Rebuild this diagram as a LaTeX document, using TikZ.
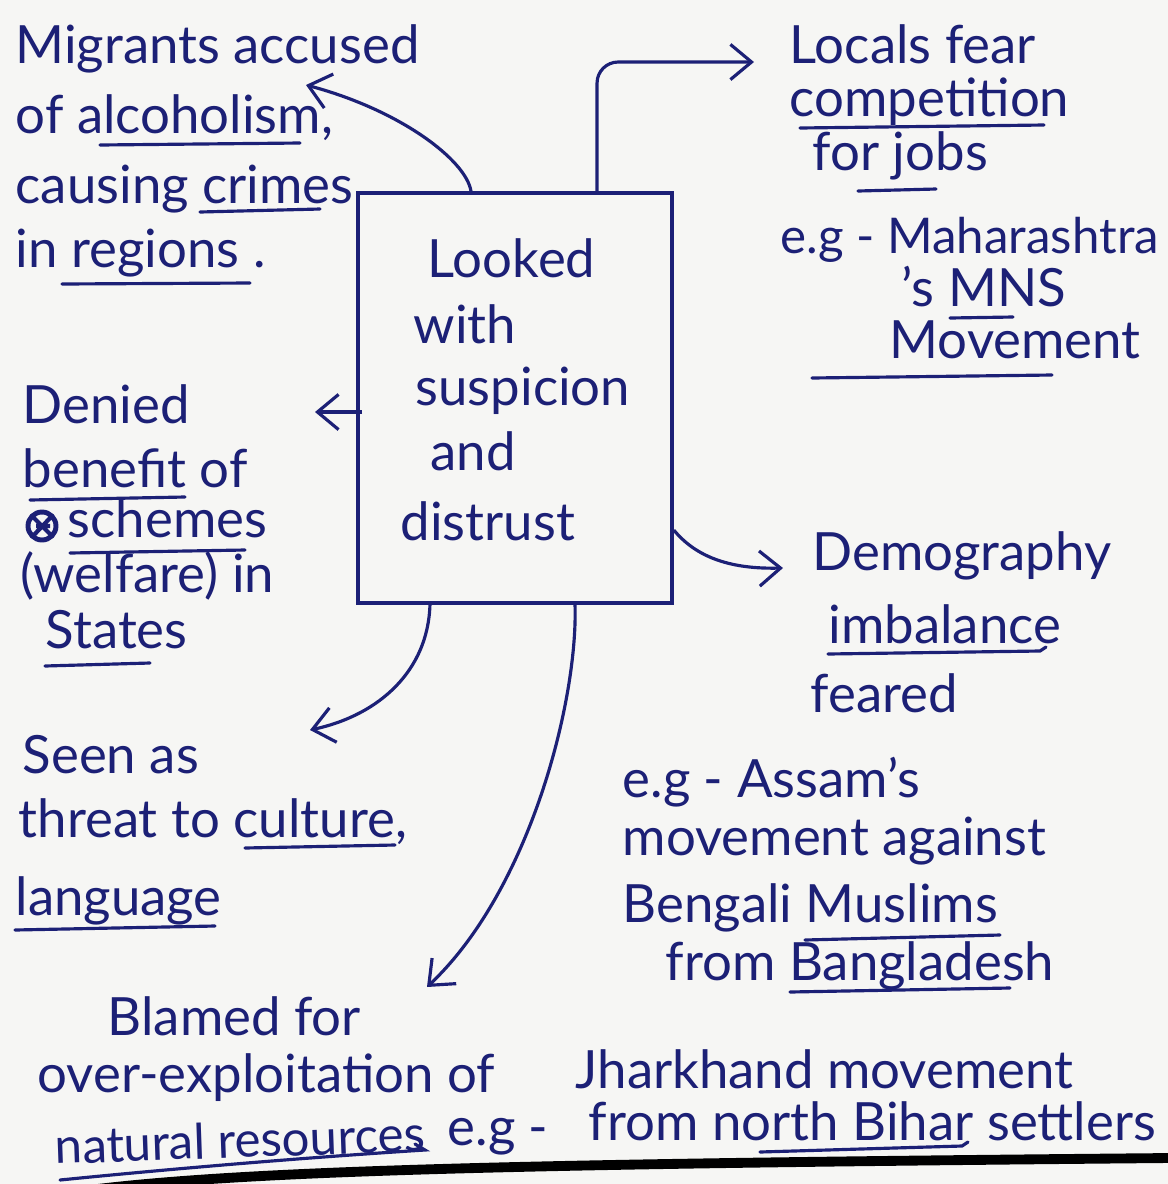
\documentclass[tikz,border=0pt]{standalone}
\usepackage{fontspec}
\setmainfont{Lato}
\usetikzlibrary{arrows.meta}
\definecolor{ink}{RGB}{28,32,118}
\definecolor{paper}{RGB}{246,246,244}
\begin{document}
\begin{tikzpicture}[x=0.01cm,y=-0.01cm,
  hand/.style={text=ink, font=\fontsize{15}{18}\selectfont, anchor=base west, inner sep=0pt},
  small/.style={font=\fontsize{14}{17}\selectfont},
  link/.style={draw=ink, line width=0.9pt, -{Straight Barb[length=6pt,width=10pt]}},
  uline/.style={draw=ink, line width=0.9pt, line cap=round},
  frame/.style={draw=ink, line width=1pt, minimum width=3.14cm, minimum height=4.10cm, inner sep=0pt}
]
% sheet
\fill[paper] (0,0) rectangle (1168,1184);
\useasboundingbox (0,0) rectangle (1168,1184);

% central box
\node[frame] (box) at (515,398) {};
\node[hand] (c1) at (427,277) {Looked};
\node[hand] (c2) at (413,343) {with};
\node[hand] (c3) at (415,405) {suspicion};
\node[hand] (c4) at (430,470) {and};
\node[hand] (c5) at (400,540) {distrust};

% top left
\node[hand] (a1) at (15,63)  {Migrants accused};
\node[hand] (a2) at (15,133) {of alcoholism,};
\node[hand] (a3) at (15,203) {causing crimes};
\node[hand] (a4) at (15,267) {in regions .};
\draw[uline] (100,145) -- (300,143);
\draw[uline] (200,212) -- (320,209);
\draw[uline] (62,284) -- (250,283);

% top right
\node[hand] (b1) at (789,63)  {Locals fear};
\node[hand] (b2) at (789,116) {competition};
\node[hand] (b3) at (812,170) {for jobs};
\node[hand, small] (b4) at (780,253) {e.g - Maharashtra};
\node[hand] (b5) at (901,306) {'s MNS};
\node[hand] (b6) at (889,358) {Movement};
\draw[uline] (800,128) -- (1044,125);
\draw[uline] (858,191) -- (936,189);
\draw[uline] (950,318) -- (1013,317);
\draw[uline] (812,378) -- (1052,375);

% left middle
\node[hand] (d1) at (22,423)  {Denied};
\node[hand] (d2) at (22,487)  {benefit of};
\node[hand] (d3) at (67,537)  {schemes};
\node[hand] (d4) at (20,592)  {(welfare) in};
\node[hand] (d5) at (45,648)  {States};
\draw[uline] (30,500) -- (185,497);
\draw[uline] (70,553) -- (245,550);
\draw[uline] (45,666) -- (150,663);
\draw[ink, line width=1.4pt] (42,526) circle[radius=14];
\draw[ink, line width=1.2pt] (32,516) -- (52,536) (32,537) -- (51,517) (36,526) -- (50,526);

% right middle
\node[hand] (e1) at (812,570) {Demography};
\node[hand] (e2) at (828,643) {imbalance};
\node[hand] (e3) at (810,712) {feared};
\node[hand] (e4) at (622,797) {e.g - Assam's};
\node[hand] (e5) at (622,855) {movement against};
\node[hand] (e6) at (622,922) {Bengali Muslims};
\node[hand] (e7) at (665,980) {from Bangladesh};
\draw[uline] (828,654) -- (1040,651) -- (1046,647);
\draw[uline] (805,940) -- (1000,935);
\draw[uline] (790,992) -- (1010,988);

% bottom left
\node[hand] (f1) at (22,773) {Seen as};
\node[hand] (f2) at (18,837) {threat to culture,};
\node[hand] (f3) at (15,915) {language};
\draw[uline] (245,848) -- (395,845);
\draw[uline] (15,930) -- (215,926);

% bottom
\node[hand] (g1) at (107,1035) {Blamed for};
\node[hand] (g2) at (37,1092)  {over-exploitation of};
\node[hand, small, rotate=2] (g3) at (55,1164) {natural resources};
\node[hand] (g4) at (447,1145) {e.g -};
\node[hand] (g5) at (575,1088) {Jharkhand movement};
\node[hand] (g6) at (588,1140) {from north Bihar settlers};
\draw[uline] (60,1180) .. controls (200,1166) and (330,1156) .. (425,1150) -- (415,1144);
\draw[uline] (760,1152) -- (962,1146) -- (968,1142);

% edge of the sheet
\draw[black, line width=2.8pt] (60,1194) .. controls (220,1170) and (520,1164) .. (1170,1158);

% connectors
\coordinate (tipMig) at (306,85);
\coordinate (tipJobs) at (754,62);
\coordinate (tipDen) at (315,412);
\coordinate (tipDem) at (783,568);
\coordinate (tipSeen) at (310,730);
\coordinate (tipBl) at (427,987);

\draw[link] ([xshift=-0.44cm]box.north) .. controls (466,160) and (400,110) .. (tipMig);
\draw[link, rounded corners=6pt] ([xshift=0.82cm]box.north) |- (tipJobs);
\draw[link] ([xshift=0.06cm]tipDen -| box.west) -- (tipDen);
\draw[link] ([yshift=-1.32cm]box.east) .. controls (700,562) and (740,569) .. (tipDem);
\draw[link] ([xshift=-0.85cm]box.south) .. controls (428,670) and (380,715) .. (tipSeen);
\draw[link] ([xshift=0.60cm]box.south) .. controls (578,700) and (530,890) .. (tipBl);
\end{tikzpicture}
\end{document}
